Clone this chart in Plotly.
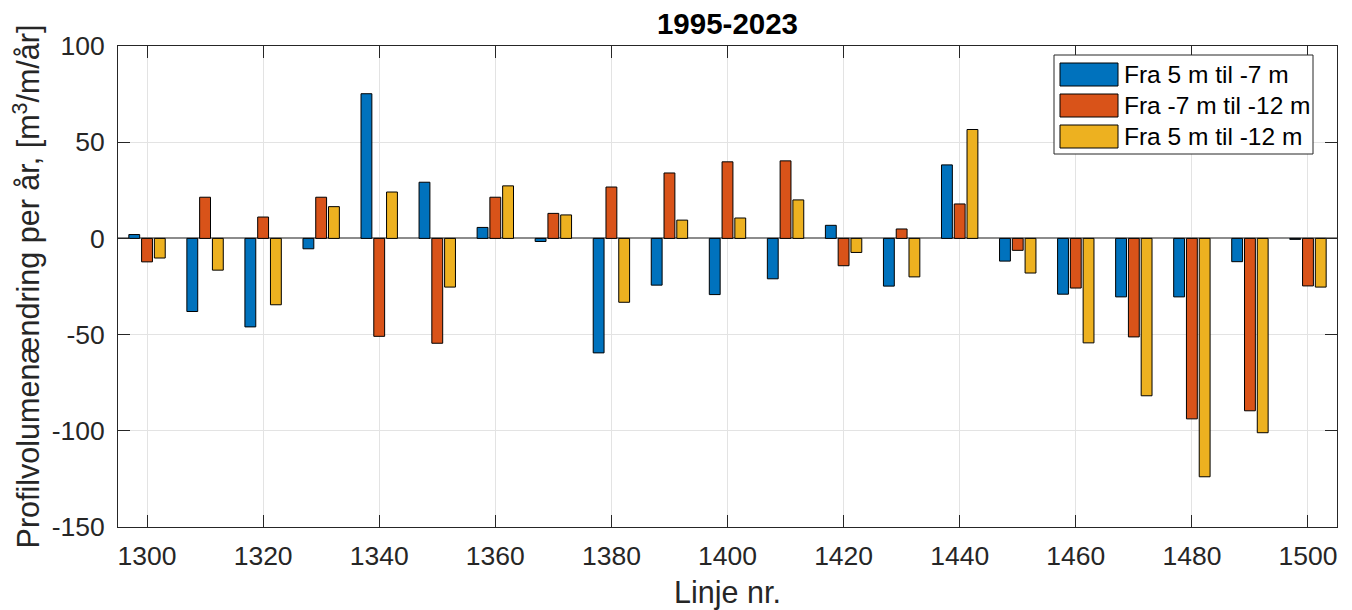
import plotly.graph_objects as go

# Profile lines and yearly volume change per zone
linjer = list(range(1300, 1501, 10))
zone_5_til_m7 = [2.0, -38.0, -46.0, -5.4, 75.2, 29.2, 5.7, -1.6, -59.5, -24.3, -29.2,
                 -21.0, 6.8, -24.8, 38.2, -11.8, -29.0, -30.4, -30.4, -12.1, -0.5]
zone_m7_til_m12 = [-12.2, 21.4, 11.1, 21.4, -50.9, -54.5, 21.4, 13.0, 26.7, 34.0, 39.8,
                   40.3, -14.2, 4.9, 17.9, -6.2, -25.8, -51.2, -93.8, -89.6, -24.7]
zone_5_til_m12 = [-10.2, -16.5, -34.5, 16.5, 24.1, -25.3, 27.3, 12.2, -33.2, 9.5, 10.6,
                  20.0, -7.3, -20.0, 56.6, -18.0, -54.3, -81.8, -123.9, -101.0, -25.3]

serie_navne = ["Fra 5 m til -7 m", "Fra -7 m til -12 m", "Fra 5 m til -12 m"]
serie_farver = ["#0072BD", "#D95319", "#EDB120"]
serie_data = [zone_5_til_m7, zone_m7_til_m12, zone_5_til_m12]

x_ticks = list(range(1300, 1501, 20))
y_ticks = [-150, -100, -50, 0, 50, 100]

W, H = 1352, 610
L, R, T, B = 118, 15, 46, 83
FONT = "Liberation Sans, Arial, Helvetica, sans-serif"
AX = "#262626"

fig = go.Figure()
for navn, farve, vals in zip(serie_navne, serie_farver, serie_data):
    fig.add_trace(go.Bar(
        x=linjer, y=vals, name=navn, showlegend=False,
        marker=dict(color=farve, line=dict(color="#000000", width=1)),
    ))


def px_x(p):
    return (p - L) / (W - L - R)


def px_y(p):
    return (H - B - p) / (H - T - B)


# Legend drawn as a boxed key in the upper right corner
shapes = [dict(type="rect", xref="paper", yref="paper",
               x0=px_x(1054), x1=px_x(1313), y0=px_y(154), y1=px_y(55),
               fillcolor="white", line=dict(color=AX, width=1), layer="above")]
annotations = []
rows = [(63, 86), (94, 117), (125, 148)]
for (r0, r1), navn, farve in zip(rows, serie_navne, serie_farver):
    shapes.append(dict(type="rect", xref="paper", yref="paper",
                       x0=px_x(1060), x1=px_x(1118), y0=px_y(r1), y1=px_y(r0),
                       fillcolor=farve, line=dict(color="#000000", width=1), layer="above"))
    annotations.append(dict(xref="paper", yref="paper", x=px_x(1122), y=px_y((r0 + r1) / 2),
                            text=navn, showarrow=False, xanchor="left", yanchor="middle",
                            font=dict(family=FONT, size=24.5, color="#000000")))

fig.update_layout(
    width=W, height=H,
    margin=dict(l=L, r=R, t=T, b=B),
    paper_bgcolor="white", plot_bgcolor="white",
    barmode="group", bargap=0.34, bargroupgap=0.15,
    font=dict(family=FONT, color=AX),
    title=dict(text="<b>1995-2023</b>", x=0.5, xref="paper", xanchor="center",
               y=1 - 24 / H, yanchor="middle",
               font=dict(family=FONT, size=29.5, color="#000000")),
    shapes=shapes, annotations=annotations,
)
fig.update_xaxes(
    range=[1295, 1505], tickvals=x_ticks, ticktext=[str(v) for v in x_ticks],
    ticks="inside", ticklen=12, tickcolor=AX, tickwidth=1,
    showline=True, linecolor=AX, linewidth=1, mirror="ticks",
    showgrid=True, gridcolor="#e3e3e3", gridwidth=1, automargin=False,
    tickfont=dict(family=FONT, size=26.5, color=AX), ticklabelstandoff=5,
    title=dict(text="Linje nr.", font=dict(family=FONT, size=30.5, color=AX), standoff=12),
)
fig.update_yaxes(
    range=[-150, 100], tickvals=y_ticks, ticktext=[str(v) for v in y_ticks],
    ticks="inside", ticklen=12, tickcolor=AX, tickwidth=1,
    showline=True, linecolor=AX, linewidth=1, mirror="ticks",
    showgrid=True, gridcolor="#e3e3e3", gridwidth=1, automargin=False,
    zeroline=True, zerolinecolor="#8c8c8c", zerolinewidth=1.5,
    tickfont=dict(family=FONT, size=26.5, color=AX), ticklabelstandoff=7,
    title=dict(text="Profilvolumenændring per år, [m<sup>3</sup>/m/år]",
               font=dict(family=FONT, size=30.5, color=AX), standoff=2),
)

fig.write_html("out.html")
